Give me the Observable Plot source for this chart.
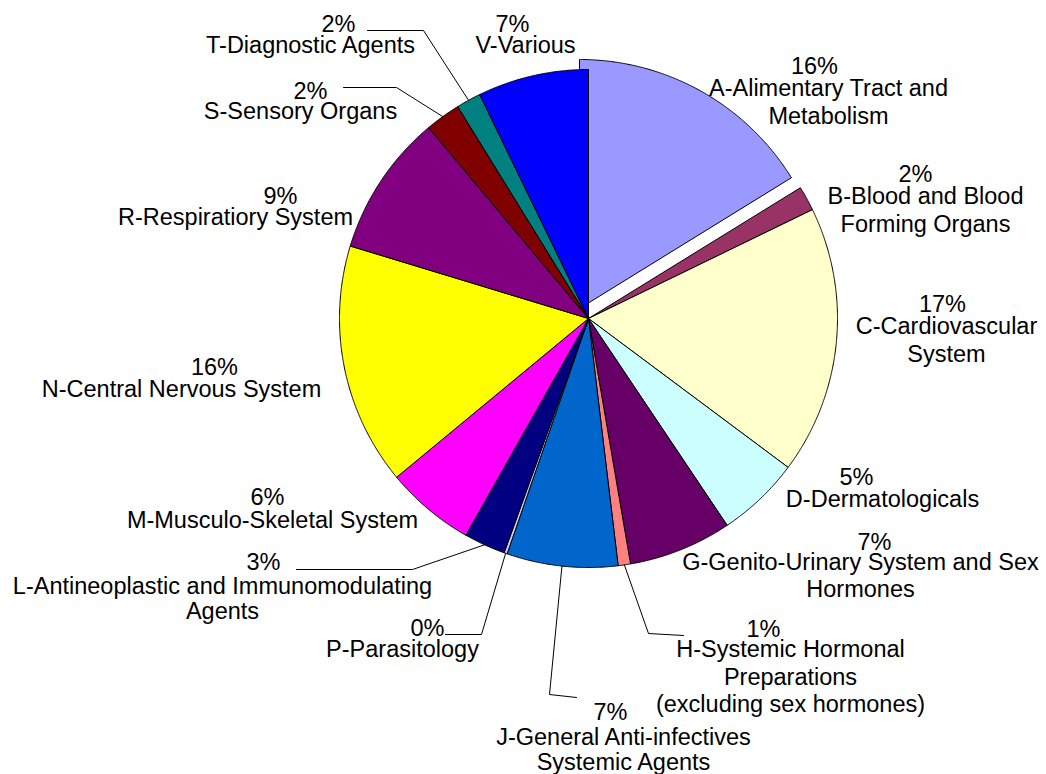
<!DOCTYPE html>
<html><head><meta charset="utf-8">
<script src="https://cdn.jsdelivr.net/npm/d3@7"></script>
<script src="https://cdn.jsdelivr.net/npm/@observablehq/plot@0.6"></script>
<style>body{margin:0;background:#fff}#chart svg{display:block;background:#fff}</style>
</head><body><div id="chart"></div>
<script>
// ---- data ----
const codes = ["A","B","C","D","G","H","J","P","L","M","N","R","S","T","V"];
const names = [
  "A-Alimentary Tract and\nMetabolism",
  "B-Blood and Blood\nForming Organs",
  "C-Cardiovascular\nSystem",
  "D-Dermatologicals",
  "G-Genito-Urinary System and Sex\nHormones",
  "H-Systemic Hormonal\nPreparations\n(excluding sex hormones)",
  "J-General Anti-infectives\nSystemic Agents",
  "P-Parasitology",
  "L-Antineoplastic and Immunomodulating\nAgents",
  "M-Musculo-Skeletal System",
  "N-Central Nervous System",
  "R-Respiratiory System",
  "S-Sensory Organs",
  "T-Diagnostic Agents",
  "V-Various"
];
const shares = [16.2, 1.6, 17.4, 5.4, 6.7, 0.8, 7.2, 0.2, 2.7, 5.8, 15.7, 9.2, 2.3, 1.6, 7.2];
const colors = ["#9999FF","#993366","#FFFFCC","#CCFFFF","#660066","#FF8080","#0066CC","#CCCCFF",
                "#000080","#FF00FF","#FFFF00","#800080","#800000","#008080","#0000FF"];

// ---- layout ----
const W = 1046, H = 774, CX = 588, CY = 318, R = 249;
const explode = {A: [-9, -10]};
// percent line: centre x / cap-top y ; name lines: centre x / cap-top y / line step
const labelLayout = {
  A: {px: 814, py: 57,  nx: 828, ny: 79,  step: 28},
  B: {px: 915, py: 165, nx: 925, ny: 187, step: 28},
  C: {px: 942, py: 295, nx: 946, ny: 317, step: 28},
  D: {px: 856, py: 468, nx: 882, ny: 490, step: 27},
  G: {px: 874, py: 533, nx: 860, ny: 553, step: 27},
  H: {px: 763, py: 620, nx: 790, ny: 640, step: 27.5},
  J: {px: 610, py: 703, nx: 623, ny: 728, step: 25},
  P: {px: 427, py: 619, nx: 402, ny: 640, step: 25},
  L: {px: 263, py: 553, nx: 222, ny: 577, step: 25},
  M: {px: 267, py: 488, nx: 272, ny: 511, step: 27},
  N: {px: 214, py: 358, nx: 181, ny: 380, step: 27},
  R: {px: 280, py: 187, nx: 235, ny: 208, step: 27},
  S: {px: 310, py: 82,  nx: 300, ny: 102, step: 27},
  T: {px: 338, py: 15,  nx: 310, ny: 36,  step: 27},
  V: {px: 512, py: 15,  nx: 525, ny: 36,  step: 27}
};
const leaderLayout = {
  T: [[423, 30], [367, 30]],
  S: [[396, 87], [343, 87]],
  L: [[412, 569], [296, 569]],
  P: [[481, 634], [445, 634]],
  J: [[549, 694], [576, 697]],
  H: [[648, 633], [683, 635]]
};

// ---- build geometry from data ----
const rows = codes.map((c, i) => ({code: c, name: names[i], share: shares[i], color: colors[i]}));
const arcs = d3.pie().sort(null).value(d => d.share).startAngle(0).endAngle(2 * Math.PI)(rows);

const slicePts = [];
for (const a of arcs) {
  const [ox, oy] = explode[a.data.code] || [0, 0];
  const cx = CX + ox, cy = CY + oy;
  const k = a.data.code;
  slicePts.push({k, x: cx, y: cy, color: a.data.color});
  const n = Math.max(2, Math.ceil((a.endAngle - a.startAngle) / (Math.PI / 720)));
  for (let j = 0; j <= n; j++) {
    const t = a.startAngle + (a.endAngle - a.startAngle) * j / n;
    slicePts.push({k, x: cx + R * Math.sin(t), y: cy - R * Math.cos(t), color: a.data.color});
  }
  slicePts.push({k, x: cx, y: cy, color: a.data.color});
}

const leaderPts = [];
for (const a of arcs) {
  const L = leaderLayout[a.data.code];
  if (!L) continue;
  const m = (a.startAngle + a.endAngle) / 2;
  leaderPts.push({k: a.data.code, x: CX + R * Math.sin(m), y: CY - R * Math.cos(m)});
  for (const [x, y] of L) leaderPts.push({k: a.data.code, x, y});
}

const textRows = [];
for (const a of arcs) {
  const lay = labelLayout[a.data.code];
  textRows.push({x: lay.px, y: lay.py, text: Math.round(a.data.share) + "%"});
  a.data.name.split("\n").forEach((line, i) => textRows.push({x: lay.nx, y: lay.ny + i * lay.step, text: line}));
}

const chart = Plot.plot({
  width: W, height: H,
  margin: 0,
  x: {domain: [0, W], range: [0, W], axis: null},
  y: {domain: [0, H], range: [0, H], axis: null},
  color: {type: "identity"},
  style: {background: "#fff"},
  marks: [
    Plot.line(slicePts, {x: "x", y: "y", z: "k", fill: "color", stroke: "#000", strokeWidth: 1, strokeLinejoin: "miter", curve: "linear"}),
    Plot.line(leaderPts, {x: "x", y: "y", z: "k", stroke: "#000", strokeWidth: 1, curve: "linear"}),
    Plot.text(textRows, {x: "x", y: "y", text: "text", lineAnchor: "top", textAnchor: "middle",
      fontSize: 23.5, fontFamily: "'Liberation Sans', Arial, sans-serif", fill: "#000"})
  ]
});
document.getElementById("chart").appendChild(chart);
</script>
</body></html>
